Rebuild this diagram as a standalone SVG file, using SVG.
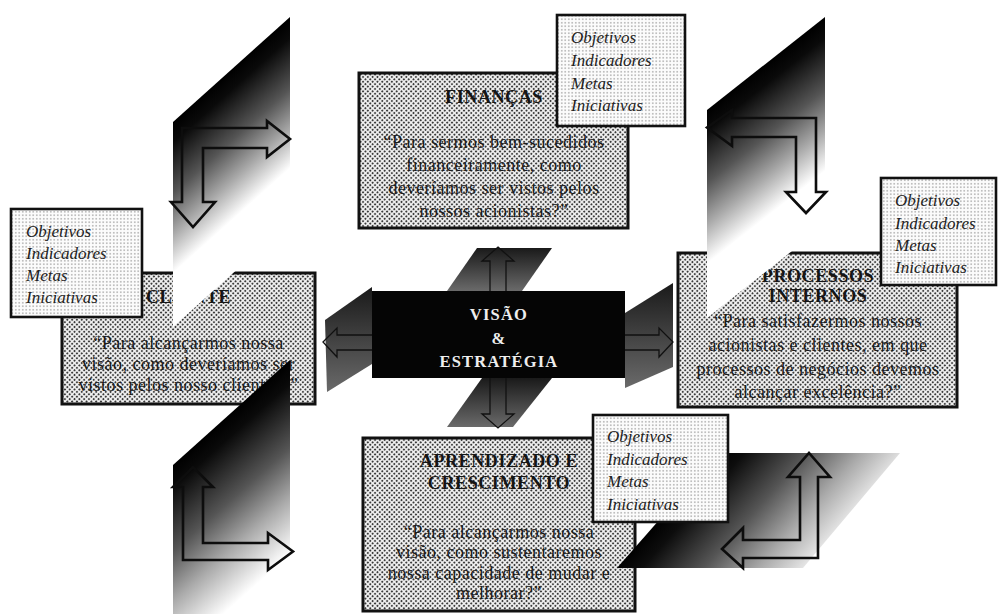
<svg xmlns="http://www.w3.org/2000/svg" width="1003" height="614" viewBox="0 0 1003 614">
  <defs>
    <style>
      .box { fill: url(#dotsDense); stroke: #111; stroke-width: 3; }
      .tag { fill: url(#dotsLight); stroke: #111; stroke-width: 2.6; }
      .ttl { font-family: "Liberation Serif", "Times New Roman", serif; font-size: 18px; font-weight: bold; fill: #151515; text-anchor: middle; letter-spacing: 0.6px; }
      .txt { font-family: "Liberation Serif", "Times New Roman", serif; font-size: 18px; fill: #1a1a1a; text-anchor: middle; letter-spacing: 0.5px; }
      .lst { font-family: "Liberation Serif", "Times New Roman", serif; font-size: 17px; font-style: italic; fill: #222; }
      .core { font-family: "Liberation Serif", "Times New Roman", serif; font-size: 16.5px; font-weight: bold; fill: #eeeeee; text-anchor: middle; letter-spacing: 1.2px; }
      .larrow { fill: none; stroke: #0d0d0d; stroke-width: 2.6; stroke-linejoin: miter; }
      .thin { fill: none; stroke: #111; stroke-width: 1.3; }
    </style>
    <pattern id="dotsDense" width="3.4" height="3.4" patternUnits="userSpaceOnUse" patternTransform="rotate(45)">
      <rect width="3.4" height="3.4" fill="#f3f3f3"/>
      <circle cx="1.7" cy="1.7" r="1.05" fill="#3a3a3a"/>
    </pattern>
    <pattern id="dotsLight" width="3.5" height="3.5" patternUnits="userSpaceOnUse">
      <rect width="3.5" height="3.5" fill="#fcfcfc"/>
      <circle cx="1.75" cy="1.75" r="0.6" fill="#555"/>
    </pattern>
    <!-- fades for the four perspective panels -->
    <linearGradient id="fadeTL" gradientUnits="userSpaceOnUse" x1="231.5" y1="69.5" x2="333" y2="182.6">
      <stop offset="0" stop-color="#000"/>
      <stop offset="0.1" stop-color="#0a0a0a"/>
      <stop offset="0.35" stop-color="#555"/>
      <stop offset="0.55" stop-color="#aaa"/>
      <stop offset="0.74" stop-color="#fff"/>
      <stop offset="1" stop-color="#fff"/>
    </linearGradient>
    <linearGradient id="fadeTR" gradientUnits="userSpaceOnUse" x1="766" y1="63.5" x2="867" y2="192">
      <stop offset="0" stop-color="#000"/>
      <stop offset="0.1" stop-color="#0a0a0a"/>
      <stop offset="0.35" stop-color="#555"/>
      <stop offset="0.55" stop-color="#aaa"/>
      <stop offset="0.74" stop-color="#fff"/>
      <stop offset="1" stop-color="#fff"/>
    </linearGradient>
    <linearGradient id="fadeBL" gradientUnits="userSpaceOnUse" x1="231.5" y1="412.5" x2="345" y2="540">
      <stop offset="0" stop-color="#000"/>
      <stop offset="0.1" stop-color="#0a0a0a"/>
      <stop offset="0.38" stop-color="#555"/>
      <stop offset="0.6" stop-color="#aaa"/>
      <stop offset="0.85" stop-color="#fff"/>
      <stop offset="1" stop-color="#fff" stop-opacity="0"/>
    </linearGradient>
    <linearGradient id="fadeBR" gradientUnits="userSpaceOnUse" x1="667" y1="510" x2="790" y2="620">
      <stop offset="0" stop-color="#000"/>
      <stop offset="0.12" stop-color="#0d0d0d"/>
      <stop offset="0.4" stop-color="#555"/>
      <stop offset="0.65" stop-color="#aaa"/>
      <stop offset="0.88" stop-color="#eee"/>
      <stop offset="1" stop-color="#fff" stop-opacity="0"/>
    </linearGradient>
    <linearGradient id="coreShade" x1="0" y1="0" x2="0" y2="1">
      <stop offset="0" stop-color="#1a1a1a"/>
      <stop offset="1" stop-color="#6a6a6a"/>
    </linearGradient>
  </defs>

  <rect width="1003" height="614" fill="#fff"/>

  <!-- central cross, extruded behind the core block -->
  <g id="connectors">
    <polygon points="477,248 552,248 522,291 447,291" fill="url(#coreShade)"/>
    <polygon points="482,378 552,378 513,427 447,427" fill="url(#coreShade)"/>
    <polygon points="325,320 372,287 372,364 327,392" fill="url(#coreShade)"/>
    <polygon points="625,313 673,283 673,367 625,388" fill="url(#coreShade)"/>
    <polygon class="thin" points="498,247 514,261 506,261 506,414 514,414 498,428 482,414 490,414 490,261 482,261"/>
    <polygon class="thin" points="323,342 337,328 337,335 659,335 659,328 673,342 659,357 659,350 337,350 337,357"/>
  </g>

  <g id="visao">
    <rect x="372" y="291" width="253" height="87" fill="#050505"/>
    <text class="core" x="499" y="320">VISÃO</text>
    <text class="core" x="499" y="344">&amp;</text>
    <text class="core" x="499" y="367">ESTRATÉGIA</text>
  </g>

  <g id="financas">
    <rect class="box" x="359" y="73" width="269" height="155"/>
    <text class="ttl" x="494" y="103">FINANÇAS</text>
    <text class="txt" x="494" y="148">“Para sermos bem-sucedidos</text>
    <text class="txt" x="494" y="171">financeiramente, como</text>
    <text class="txt" x="494" y="194">deveríamos ser vistos pelos</text>
    <text class="txt" x="494" y="217">nossos acionistas?”</text>
  </g>
  <g id="financas-itens">
    <rect class="tag" x="557" y="15" width="128" height="111"/>
    <text class="lst" x="571" y="43">Objetivos</text>
    <text class="lst" x="571" y="66">Indicadores</text>
    <text class="lst" x="571" y="89">Metas</text>
    <text class="lst" x="571" y="111">Iniciativas</text>
  </g>

  <g id="cliente">
    <rect class="box" x="62" y="273" width="253" height="131"/>
    <text class="ttl" x="188.5" y="303">CLIENTE</text>
    <text class="txt" x="188.5" y="349">“Para alcançarmos nossa</text>
    <text class="txt" x="188.5" y="370">visão, como deveríamos ser</text>
    <text class="txt" x="188.5" y="391">vistos pelos nosso clientes?”</text>
  </g>

  <g id="painel-sup-esq">
    <polygon points="173,122 290,17 290,222 173,327" fill="url(#fadeTL)"/>
    <polygon class="larrow" points="182,128 267,128 267,121 290,139 267,157 267,148 203,148 203,202 215,202 193,227 171,202 182,202"/>
  </g>

  <g id="painel-inf-esq">
    <polygon points="173,465 290,360 290,585 173,690" fill="url(#fadeBL)"/>
    <polygon class="larrow" points="183,560 183,487 173,487 193,467 213,487 203,487 203,543 268,543 268,533 293,551.5 268,570 268,560"/>
  </g>

  <g id="cliente-itens">
    <rect class="tag" x="11" y="209" width="131" height="108"/>
    <text class="lst" x="26" y="237">Objetivos</text>
    <text class="lst" x="26" y="259">Indicadores</text>
    <text class="lst" x="26" y="281">Metas</text>
    <text class="lst" x="26" y="303">Iniciativas</text>
  </g>

  <g id="processos">
    <rect class="box" x="678" y="253" width="279" height="154"/>
    <text class="ttl" x="818" y="282">PROCESSOS</text>
    <text class="ttl" x="818" y="302">INTERNOS</text>
    <text class="txt" x="818" y="327">“Para satisfazermos nossos</text>
    <text class="txt" x="818" y="351">acionistas e clientes, em que</text>
    <text class="txt" x="818" y="375">processos de negócios devemos</text>
    <text class="txt" x="818" y="398">alcançar excelência?”</text>
  </g>

  <g id="painel-sup-dir">
    <polygon points="707,110 825,17 825,225 707,318" fill="url(#fadeTR)"/>
    <polygon class="larrow" points="816,118 732,118 732,110 707,127.5 732,146 732,137 796,137 796,192 786,192 806,213 826,192 816,192"/>
  </g>

  <g id="processos-itens">
    <rect class="tag" x="881" y="178" width="115" height="107"/>
    <text class="lst" x="895" y="206">Objetivos</text>
    <text class="lst" x="895" y="229">Indicadores</text>
    <text class="lst" x="895" y="251">Metas</text>
    <text class="lst" x="895" y="273">Iniciativas</text>
  </g>

  <g id="aprendizado">
    <rect class="box" x="363" y="438" width="272" height="173"/>
    <text class="ttl" x="499" y="467">APRENDIZADO E</text>
    <text class="ttl" x="499" y="489">CRESCIMENTO</text>
    <text class="txt" x="499" y="538">“Para alcançarmos nossa</text>
    <text class="txt" x="499" y="558">visão, como sustentaremos</text>
    <text class="txt" x="499" y="579">nossa capacidade de mudar e</text>
    <text class="txt" x="499" y="599">melhorar?”</text>
  </g>

  <g id="painel-inf-dir">
    <polygon points="718,453 900,453 803,568 617,568" fill="url(#fadeBR)"/>
    <polygon class="larrow" points="818,558 743,558 743,568 722,549 743,528 743,540 800,540 800,477 788,477 809,453 830,477 818,477"/>
  </g>

  <g id="aprendizado-itens">
    <rect class="tag" x="593" y="415" width="135" height="107"/>
    <text class="lst" x="607" y="442">Objetivos</text>
    <text class="lst" x="607" y="465">Indicadores</text>
    <text class="lst" x="607" y="487">Metas</text>
    <text class="lst" x="607" y="510">Iniciativas</text>
  </g>
</svg>
